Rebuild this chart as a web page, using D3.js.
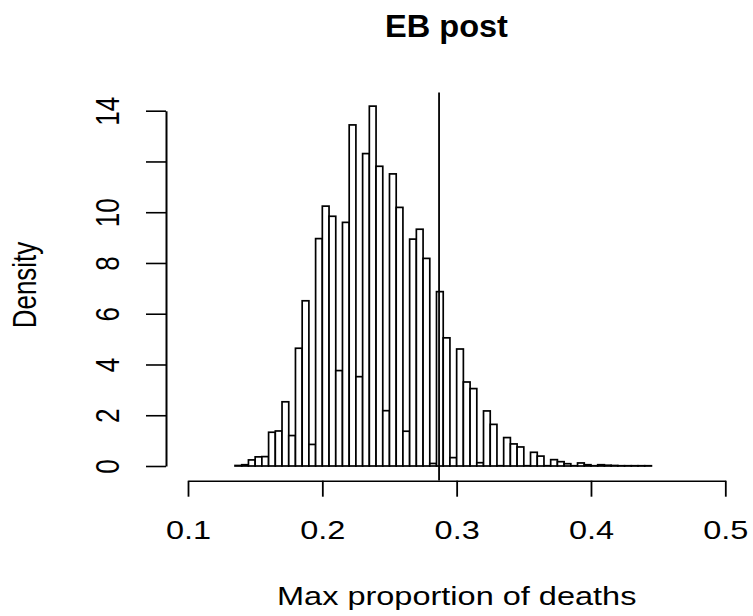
<!DOCTYPE html>
<html>
<head>
<meta charset="utf-8">
<script src="https://cdn.jsdelivr.net/npm/d3@7"></script>
<style>
  body { margin: 0; background: #fff; }
  text { font-family: "Liberation Sans", Arial, Helvetica, sans-serif; fill: #000; }
</style>
</head>
<body>
<svg width="753" height="616"></svg>
<script>
// histogram bins: 0.13 .. 0.445 by 0.005
const binStart = 0.13;
const binWidth = 0.005;
const density = [
  0, 0.02, 0.05, 0.24, 0.36, 0.37, 1.33, 1.38, 2.53, 1.20,
  4.64, 6.51, 0.85, 8.96, 10.24, 9.84, 3.76, 9.60, 13.44, 3.52,
  12.31, 14.18, 11.81, 2.18, 11.51, 10.19, 1.37, 8.94, 9.33, 8.18,
  0.10, 6.87, 5.05, 0.33, 4.61, 3.31, 3.05, 0.13, 2.17, 1.64,
  0.01, 1.12, 0.87, 0.75, 0.01, 0.54, 0.39, 0.01, 0.25, 0.17,
  0.09, 0.01, 0.12, 0.05, 0.01, 0.05, 0.03, 0.02, 0.01, 0.01,
  0.01, 0.01, 0.01
];
const refLine = 0.2869;
const xTicks = [0.1, 0.2, 0.3, 0.4, 0.5];
const yTicks = [0, 2, 4, 6, 8, 10, 12, 14];
const yLabels = ["0", "2", "4", "6", "8", "10", "", "14"]; // R drops "12" (overlap)

const titleText = "EB post";
const xTitle = "Max proportion of deaths";
const yTitle = "Density";

let svg = d3.select("svg");
const stretch = 1.25; // text in the reference is wider than tall

const x = d3.scaleLinear().domain([0.1, 0.5]).range([188, 725.3]);
const y = d3.scaleLinear().domain([0, 14]).range([466, 110.7]);
const plotTop = y(14.72), plotBottom = y(-0.57);

const bins = density.map((d, i) => ({
  x0: binStart + i * binWidth,
  x1: binStart + (i + 1) * binWidth,
  value: d
}));

// bars
svg.append("g")
  .selectAll("rect")
  .data(bins)
  .enter().append("rect")
    .attr("x", d => x(d.x0))
    .attr("width", d => x(d.x1) - x(d.x0))
    .attr("y", d => y(d.value))
    .attr("height", d => y(0) - y(d.value))
    .attr("fill", "#fff")
    .attr("stroke", "#000")
    .attr("stroke-width", 1.7);

// observed value line
svg.append("line")
  .attr("x1", x(refLine)).attr("x2", x(refLine))
  .attr("y1", plotTop).attr("y2", plotBottom)
  .attr("stroke", "#000")
  .attr("stroke-width", 1.8);

// y axis
const gy = svg.append("g")
  .attr("transform", "translate(166,0)")
  .call(d3.axisLeft(y)
    .tickValues(yTicks)
    .tickSize(20)
    .tickSizeOuter(0)
    .tickFormat((d, i) => yLabels[i]));
gy.select(".domain").attr("stroke-width", 2);
gy.selectAll(".tick line").attr("stroke-width", 1.6);
gy.selectAll(".tick text")
  .attr("x", null).attr("dy", null)
  .attr("text-anchor", "middle")
  .attr("font-size", 26)
  .attr("font-family", null)
  .attr("transform", `translate(${119 - 166},0) scale(${stretch},1) rotate(-90)`);

// x axis
const gx = svg.append("g")
  .attr("transform", "translate(0,480.7)")
  .call(d3.axisBottom(x)
    .tickValues(xTicks)
    .tickSize(16)
    .tickSizeOuter(0)
    .tickFormat(d3.format(".1f")));
gx.select(".domain").attr("stroke-width", 1.6);
gx.selectAll(".tick line").attr("stroke-width", 1.8);
gx.selectAll(".tick text")
  .attr("y", null).attr("dy", null)
  .attr("text-anchor", "middle")
  .attr("font-size", 26)
  .attr("font-family", null)
  .attr("transform", `translate(0,${539 - 480.7}) scale(${stretch},1)`);

// titles
svg.append("text")
  .attr("text-anchor", "middle")
  .attr("font-size", 31)
  .attr("font-weight", "bold")
  .attr("transform", `translate(446.5,37) scale(1.05,1)`)
  .text(titleText);

svg.append("text")
  .attr("text-anchor", "middle")
  .attr("font-size", 26)
  .attr("transform", `translate(456.7,605) scale(${stretch},1)`)
  .text(xTitle);

svg.append("text")
  .attr("text-anchor", "middle")
  .attr("font-size", 26)
  .attr("transform", `translate(36,285) scale(${stretch},1) rotate(-90)`)
  .text(yTitle);
</script>
</body>
</html>
